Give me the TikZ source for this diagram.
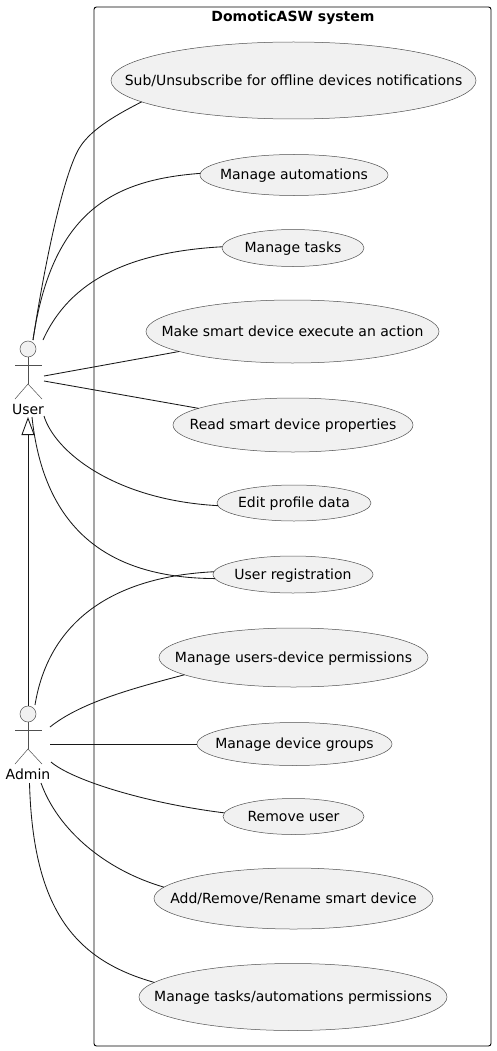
\documentclass[tikz,border=0pt]{standalone}
\usepackage{fontspec}
\setmainfont{DejaVu Sans}
\usetikzlibrary{arrows.meta}
\usetikzlibrary{shapes.geometric}
\definecolor{ucfill}{HTML}{F1F1F1}
\definecolor{ucdraw}{HTML}{181818}
\definecolor{limbdraw}{HTML}{505050}
\newcommand{\uctext}[1]{\smash{\makebox[0pt]{\raisebox{-0.33em}{#1}}}}
\tikzset{
	uc/.style={draw=limbdraw, line width=0.5pt, fill=ucfill, ellipse, inner sep=0pt, outer sep=0pt, font=\fontsize{14}{16}\selectfont},
	head/.style={draw=limbdraw, line width=0.5pt, fill=ucfill, circle, minimum size=16pt, inner sep=0pt},
	limb/.style={draw=limbdraw, line width=0.5pt},
	actorname/.style={font=\fontsize{14}{16}\selectfont, inner sep=0pt},
	conn/.style={draw=ucdraw, line width=0.85pt},
}
\begin{document}
\begin{tikzpicture}[x=1pt, y=-1pt]

	\useasboundingbox (0,0) rectangle (496,1051);

	\node [draw=black, line width=0.9pt, rounded corners=2.5pt, minimum width=397pt, minimum height=1039pt, inner sep=0pt] (sys) at (292.5,526.5) {};
	\node [font=\fontsize{14}{16}\selectfont\bfseries, inner sep=0pt] (title) at (293,18) {DomoticASW system};

	% use cases
	\node [uc, minimum width=365pt, minimum height=77pt] (subs) at (293.5,80.5) {\uctext{Sub/Unsubscribe for offline devices notifications}};
	\node [uc, minimum width=188pt, minimum height=41pt] (autom) at (294,175) {\uctext{Manage automations}};
	\node [uc, minimum width=142pt, minimum height=37pt] (tasks) at (293,248) {\uctext{Manage tasks}};
	\node [uc, minimum width=293pt, minimum height=63pt] (exec) at (292.5,331.5) {\uctext{Make smart device execute an action}};
	\node [uc, minimum width=240pt, minimum height=54pt] (props) at (293,425) {\uctext{Read smart device properties}};
	\node [uc, minimum width=154pt, minimum height=36pt] (profile) at (294,503) {\uctext{Edit profile data}};
	\node [uc, minimum width=160pt, minimum height=37pt] (regis) at (293,574.5) {\uctext{User registration}};
	\node [uc, minimum width=269pt, minimum height=59pt] (perms) at (293.5,657.5) {\uctext{Manage users-device permissions}};
	\node [uc, minimum width=195pt, minimum height=43pt] (groups) at (294.5,744) {\uctext{Manage device groups}};
	\node [uc, minimum width=141pt, minimum height=36pt] (remove) at (293.5,816.5) {\uctext{Remove user}};
	\node [uc, minimum width=279pt, minimum height=61pt] (addrem) at (293.5,898.5) {\uctext{Add/Remove/Rename smart device}};
	\node [uc, minimum width=308pt, minimum height=67pt] (taskperm) at (293,997) {\uctext{Manage tasks/automations permissions}};

	% actors
	\node [head] (user) at (28,349) {};
	\node [actorname] (lu) at (28,409) {User};
	\coordinate (ub) at (28,384);
	\draw [limb] (user.south) -- (ub);
	\draw [limb] (15,365) -- (42,365);
	\draw [limb] (15,399) -- (ub) -- (42,399);

	\node [head] (admin) at (28,714) {};
	\node [actorname] (la) at (28,774) {Admin};
	\coordinate (ab) at (28,749);
	\draw [limb] (admin.south) -- (ab);
	\draw [limb] (15,730) -- (42,730);
	\draw [limb] (15,764) -- (ab) -- (42,764);

	% connector ends next to the actors
	\coordinate (u1) at (33,340);
	\coordinate (u2) at (33,340);
	\coordinate (u3) at (43,340);
	\coordinate (u4) at (44,376);
	\coordinate (u5) at (44,381);
	\coordinate (u6) at (44,416);
	\coordinate (u7) at (32,417);
	\coordinate (a1) at (35,705);
	\coordinate (a2) at (50,727);
	\coordinate (a3) at (50,744);
	\coordinate (a4) at (51,762);
	\coordinate (a5) at (41,783);
	\coordinate (a6) at (29.5,783);
	\coordinate (bend) at (80,147);

	\draw [conn] (u1) .. controls (46,255) and (65,170) .. (bend) .. controls (92,128) and (120,113) .. (subs.188);
	\draw [conn] (u2) .. controls (52,212) and (112,180) .. (autom.179);
	\draw [conn] (u3) .. controls (70,280) and (130,252) .. (tasks.179);
	\draw [conn] (u4) -- (exec.190);
	\draw [conn] (u5) -- (props.170);
	\draw [conn] (u6) .. controls (55,452) and (115,500) .. (profile.182);
	\draw [conn] (u7) .. controls (45,540) and (120,578) .. (regis.183);
	\draw [conn] (a1) .. controls (48,625) and (108,577) .. (regis.178);
	\draw [conn] (a2) .. controls (80,703) and (130,689) .. (perms.189);
	\draw [conn] (a3) -- (groups.west);
	\draw [conn] (a4) .. controls (72,780) and (145,803) .. (remove.177);
	\draw [conn] (a5) .. controls (58,830) and (105,870) .. (addrem.175);
	\draw [conn] (a6) .. controls (33,910) and (75,960) .. (taskperm.174);

	% generalization
	\coordinate (tip) at (28,417);
	\draw [conn, -{Triangle[open, length=18pt, width=13pt]}] (admin.north) -- (tip);

\end{tikzpicture}
\end{document}
